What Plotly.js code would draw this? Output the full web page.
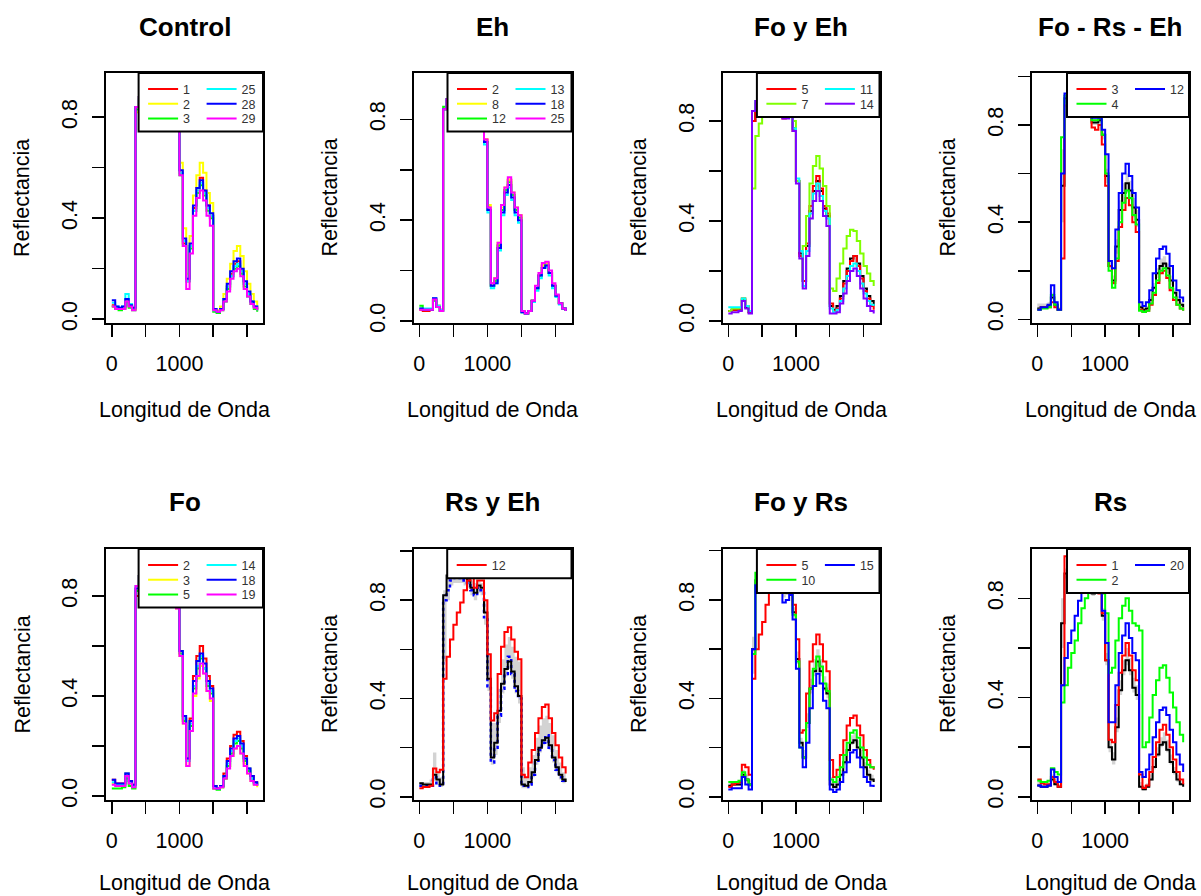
<!DOCTYPE html>
<html><head><meta charset="utf-8">
<script src="https://cdn.plot.ly/plotly-3.0.1.min.js"></script>
<style>html,body{margin:0;padding:0;background:#fff}#chart{width:1201px;height:896px}</style>
</head><body><div id="chart"></div>
<script>
// Wavelength index (x axis) shared by all spectra
const wl = [0,50,100,150,200,250,300,350,400,450,500,550,600,650,700,750,800,850,900,950,1000,1050,1100,1150,1200,1250,1300,1350,1400,1450,1500,1550,1600,1650,1700,1750,1800,1850,1900,1950,2000,2050,2100,2150];

// Control
const ctrl1  = [.055,.045,.04,.045,.075,.05,.04, .84, .88,.89,.89,.89,.89,.88,.87,.86,.85,.86,.84, .77,.58,.30,.15,.29,.44,.52,.56,.51,.45,.41, .035,.03,.04,.08,.13,.18,.22,.23,.19,.14,.10,.07,.05,.035];
const ctrl2  = [.05,.045,.04,.045,.07,.05,.04, .82, .88,.89,.89,.89,.89,.88,.87,.86,.85,.86,.85, .79,.62,.36,.18,.33,.49,.57,.62,.58,.50,.46, .04,.035,.05,.10,.16,.22,.27,.29,.25,.19,.14,.10,.07,.05];
const ctrl3  = [.05,.04,.035,.04,.07,.045,.035, .83, .87,.88,.88,.88,.88,.87,.86,.85,.84,.85,.83, .76,.57,.29,.15,.28,.43,.50,.53,.49,.43,.40, .03,.025,.035,.07,.12,.17,.20,.21,.18,.13,.09,.06,.04,.03];
const ctrl25 = [.065,.05,.045,.05,.10,.06,.045, .84, .88,.89,.89,.89,.89,.88,.87,.86,.85,.86,.84, .77,.58,.31,.15,.29,.43,.51,.54,.50,.44,.41, .035,.03,.04,.08,.13,.17,.21,.22,.19,.14,.10,.07,.05,.035];
const ctrl28 = [.075,.05,.045,.05,.08,.055,.045, .84, .88,.89,.89,.89,.89,.88,.87,.86,.85,.86,.84, .77,.59,.32,.16,.30,.45,.52,.55,.51,.45,.42, .04,.03,.04,.08,.14,.19,.23,.24,.20,.15,.11,.07,.05,.04];
const ctrl29 = [.05,.04,.04,.04,.07,.05,.035, .84, .88,.89,.89,.89,.89,.88,.87,.86,.85,.86,.84, .76,.57,.29,.12,.26,.41,.48,.51,.47,.41,.37, .035,.03,.035,.07,.11,.16,.19,.20,.17,.12,.09,.06,.045,.035];

// Eh
const eh2  = [.045,.04,.04,.045,.085,.06,.045, .84, .88,.89,.89,.89,.89,.88,.87,.86,.85,.86,.84, .72,.45,.14,.16,.30,.44,.52,.56,.50,.44,.42, .04,.03,.04,.08,.13,.18,.22,.23,.19,.14,.10,.07,.05,.04];
const eh8  = [.05,.045,.045,.045,.085,.06,.045, .84, .88,.89,.89,.89,.89,.88,.87,.86,.85,.86,.84, .72,.46,.15,.17,.31,.45,.53,.56,.51,.45,.42, .04,.03,.04,.08,.13,.18,.22,.23,.19,.14,.10,.07,.05,.04];
const eh12 = [.06,.045,.045,.045,.08,.055,.04, .85, .88,.89,.89,.89,.89,.88,.87,.86,.85,.86,.84, .71,.44,.14,.16,.30,.44,.52,.55,.50,.44,.41, .035,.03,.04,.08,.13,.18,.21,.22,.19,.14,.10,.07,.05,.04];
const eh13 = [.05,.05,.05,.05,.09,.06,.045, .84, .88,.89,.89,.89,.89,.88,.87,.86,.85,.86,.84, .70,.43,.13,.15,.28,.42,.50,.53,.48,.42,.39, .035,.03,.04,.075,.12,.17,.21,.215,.18,.13,.095,.065,.05,.04];
const eh18 = [.05,.045,.045,.045,.09,.055,.04, .84, .88,.89,.89,.89,.89,.88,.87,.86,.85,.86,.84, .71,.44,.14,.15,.29,.43,.51,.54,.49,.43,.40, .035,.03,.04,.08,.13,.18,.21,.22,.19,.14,.10,.07,.05,.04];
const eh25 = [.045,.045,.045,.045,.085,.055,.04, .84, .88,.89,.89,.89,.89,.88,.87,.86,.85,.86,.84, .72,.45,.15,.17,.31,.46,.53,.57,.51,.45,.42, .04,.03,.04,.08,.14,.19,.23,.235,.20,.15,.105,.07,.05,.04];

// Fo y Eh
const foeh5  = [.04,.045,.045,.05,.09,.06,.035, .80, .88,.89,.89,.89,.89,.88,.86,.84,.81,.82,.82, .76,.56,.26,.16,.31,.46,.54,.58,.53,.46,.43, .07,.04,.05,.09,.15,.20,.24,.26,.22,.17,.12,.09,.06,.045];
const foeh7  = [.04,.05,.05,.05,.09,.06,.04, .53, .74,.79,.85,.88,.89,.89,.88,.87,.86,.86,.84, .80,.56,.28,.30,.42,.55,.62,.66,.61,.54,.46, .13,.12,.17,.23,.29,.34,.365,.36,.32,.27,.22,.19,.16,.14];
const foeh11 = [.055,.055,.055,.055,.09,.06,.04, .84, .88,.89,.89,.89,.89,.88,.87,.85,.82,.83,.83, .77,.57,.28,.14,.28,.43,.51,.55,.50,.44,.41, .05,.035,.045,.08,.13,.18,.22,.23,.20,.15,.11,.08,.065,.06];
const foeh14 = [.03,.035,.035,.04,.08,.05,.03, .84, .88,.89,.89,.89,.89,.88,.86,.84,.81,.81,.82, .76,.55,.25,.13,.26,.41,.48,.52,.48,.42,.38, .03,.03,.035,.07,.11,.16,.20,.21,.18,.13,.09,.06,.04,.03];
const foehMean = [.04,.045,.045,.045,.085,.055,.035, .80, .87,.89,.89,.89,.89,.88,.86,.84,.82,.83,.83, .77,.56,.27,.16,.30,.44,.52,.56,.52,.45,.42, .06,.045,.06,.10,.16,.21,.25,.26,.23,.18,.13,.10,.08,.06];

// Fo - Rs - Eh
const forseh3  = [.04,.05,.05,.05,.07,.05,.04, .25, .88,.90,.90,.90,.89,.88,.87,.85,.79,.78,.80, .72,.55,.22,.15,.24,.38,.45,.50,.47,.40,.36, .04,.03,.035,.06,.10,.15,.19,.20,.17,.12,.08,.06,.045,.035];
const forseh4  = [.04,.045,.045,.05,.10,.06,.04, .75, .92,.92,.91,.90,.89,.88,.86,.84,.82,.82,.83, .76,.60,.20,.13,.25,.40,.48,.53,.50,.43,.39, .035,.03,.035,.065,.11,.16,.20,.21,.18,.13,.09,.06,.045,.035];
const forseh12 = [.04,.05,.05,.06,.14,.07,.04, .60, .93,.93,.92,.91,.90,.89,.88,.86,.83,.83,.83, .78,.68,.24,.21,.37,.52,.60,.64,.59,.52,.46, .07,.055,.07,.12,.19,.25,.29,.30,.27,.22,.16,.12,.09,.07];
const forsehMean = [.045,.05,.05,.055,.09,.06,.04, .55, .91,.92,.91,.90,.89,.88,.87,.85,.81,.81,.82, .76,.59,.22,.16,.30,.45,.52,.56,.53,.46,.41, .05,.04,.045,.08,.13,.19,.22,.23,.21,.16,.11,.08,.06,.05];
const forsehLo = [.04,.045,.045,.05,.08,.05,.035, .40, .89,.90,.90,.89,.88,.87,.86,.84,.80,.80,.81, .74,.56,.21,.14,.27,.41,.48,.52,.49,.42,.38, .04,.035,.04,.07,.12,.17,.20,.21,.19,.14,.10,.07,.05,.04];
const forsehHi = [.065,.065,.065,.07,.11,.075,.05, .70, .93,.93,.92,.91,.90,.89,.88,.86,.83,.83,.84, .78,.62,.24,.18,.33,.49,.56,.60,.57,.50,.45, .06,.05,.055,.09,.15,.21,.25,.26,.23,.18,.13,.095,.07,.06];

// Fo
const fo2  = [.065,.05,.05,.05,.09,.06,.045, .80, .88,.89,.89,.89,.89,.88,.87,.86,.85,.86,.84, .76,.58,.31,.15,.31,.48,.56,.60,.55,.48,.44, .04,.03,.04,.09,.15,.20,.245,.257,.22,.16,.11,.08,.055,.045];
const fo3  = [.05,.045,.045,.045,.08,.05,.04, .82, .88,.89,.89,.89,.89,.88,.87,.86,.85,.86,.84, .75,.56,.29,.12,.26,.40,.47,.52,.49,.42,.38, .03,.03,.035,.07,.12,.16,.19,.20,.17,.13,.09,.06,.045,.035];
const fo5  = [.03,.03,.03,.035,.07,.04,.03, .82, .88,.89,.89,.89,.89,.88,.87,.86,.85,.86,.84, .76,.57,.30,.14,.28,.43,.51,.55,.51,.44,.41, .03,.025,.035,.07,.12,.17,.21,.22,.19,.14,.10,.07,.05,.04];
const fo14 = [.055,.045,.045,.045,.09,.055,.04, .84, .88,.89,.89,.89,.89,.88,.87,.86,.85,.86,.84, .76,.58,.31,.14,.29,.44,.52,.56,.51,.45,.42, .035,.03,.04,.08,.13,.18,.22,.23,.20,.15,.11,.07,.05,.04];
const fo18 = [.065,.05,.05,.05,.09,.06,.045, .83, .88,.89,.89,.89,.89,.88,.87,.86,.85,.86,.84, .76,.58,.32,.15,.30,.46,.54,.57,.53,.46,.43, .04,.03,.04,.08,.14,.19,.23,.24,.21,.15,.11,.08,.055,.045];
const fo19 = [.045,.04,.04,.04,.08,.05,.035, .84, .88,.89,.89,.89,.89,.88,.87,.86,.85,.86,.84, .75,.56,.29,.12,.26,.41,.48,.53,.49,.42,.39, .03,.03,.035,.07,.11,.16,.19,.20,.17,.12,.09,.06,.045,.04];

// Rs y Eh
const rseh12   = [.035,.04,.04,.045,.115,.10,.11, .48, .57,.64,.70,.75,.79,.84,.88,.89,.85,.88,.88, .80,.58,.31,.34,.50,.61,.67,.69,.64,.59,.56, .09,.08,.14,.19,.26,.32,.365,.375,.32,.26,.21,.16,.12,.095];
const rsehMean = [.055,.05,.05,.05,.09,.07,.05, .82, .90,.91,.90,.90,.90,.89,.88,.85,.83,.86,.85, .75,.48,.16,.22,.35,.46,.52,.55,.51,.45,.41, .05,.045,.06,.10,.15,.20,.23,.24,.21,.16,.12,.09,.07,.06];
const rsehBlue = [.045,.045,.045,.045,.08,.055,.045, .80, .84,.88,.89,.89,.89,.88,.87,.84,.82,.85,.84, .73,.45,.14,.20,.33,.44,.50,.57,.50,.43,.40, .045,.04,.05,.09,.14,.19,.22,.25,.20,.15,.11,.08,.065,.055];
const rsehLo   = [.04,.04,.04,.04,.07,.05,.04, .55, .80,.86,.87,.87,.87,.86,.85,.82,.80,.83,.82, .70,.43,.13,.17,.30,.42,.49,.52,.48,.42,.38, .035,.035,.045,.08,.13,.18,.21,.22,.19,.14,.10,.07,.055,.05];
const rsehHi   = [.06,.06,.06,.07,.18,.10,.08, .84, .92,.92,.92,.92,.92,.91,.90,.88,.87,.88,.87, .80,.58,.30,.30,.44,.56,.62,.65,.61,.57,.55, .12,.08,.12,.17,.24,.29,.32,.33,.30,.25,.19,.14,.10,.085];

// Fo y Rs
const fors5  = [.04,.05,.055,.06,.13,.12,.09, .48, .60,.66,.71,.78,.84,.88,.89,.89,.87,.88,.86, .78,.64,.26,.27,.42,.55,.62,.66,.62,.55,.51, .15,.08,.11,.17,.23,.29,.32,.33,.29,.25,.19,.15,.12,.11];
const fors10 = [.06,.06,.06,.065,.10,.07,.05, .58, .91,.91,.91,.90,.90,.89,.88,.87,.85,.86,.86, .74,.55,.20,.16,.30,.44,.52,.57,.53,.46,.43, .07,.06,.08,.12,.17,.22,.26,.27,.24,.20,.16,.13,.12,.115];
const fors15 = [.03,.035,.035,.035,.08,.05,.03, .60, .86,.88,.89,.89,.89,.88,.86,.83,.79,.80,.82, .72,.52,.20,.12,.22,.36,.45,.50,.46,.39,.36, .03,.02,.03,.06,.10,.14,.18,.19,.16,.12,.08,.06,.045,.04];
const forsMean = [.045,.05,.05,.05,.09,.07,.05, .60, .88,.90,.90,.90,.89,.88,.87,.85,.83,.84,.84, .75,.56,.22,.16,.30,.44,.51,.55,.51,.44,.42, .05,.04,.05,.09,.14,.19,.22,.23,.20,.16,.12,.09,.07,.06];
const forsLo = [.04,.045,.045,.045,.08,.06,.04, .50, .86,.89,.89,.89,.88,.87,.86,.84,.81,.82,.83, .73,.54,.21,.15,.28,.42,.49,.53,.49,.43,.40, .045,.035,.045,.08,.13,.18,.21,.22,.19,.15,.11,.08,.06,.05];
const forsHi = [.055,.06,.06,.06,.11,.09,.07, .65, .90,.91,.91,.91,.90,.89,.88,.86,.85,.86,.86, .77,.59,.24,.19,.34,.48,.56,.60,.56,.49,.46, .08,.06,.07,.11,.17,.22,.25,.26,.23,.19,.14,.11,.09,.08];

// Rs
const rs1  = [.07,.055,.05,.05,.08,.06,.04, .45, .97,.97,.96,.95,.93,.91,.89,.87,.85,.83,.82, .74,.55,.23,.22,.37,.50,.57,.62,.57,.51,.47, .09,.035,.045,.10,.16,.22,.27,.29,.25,.20,.15,.10,.07,.05];
const rs2  = [.065,.06,.06,.065,.115,.10,.09, .38, .45,.52,.58,.63,.70,.76,.80,.84,.86,.86,.85, .82,.74,.50,.52,.63,.72,.77,.80,.75,.70,.69, .67,.20,.22,.32,.41,.47,.52,.53,.48,.42,.36,.30,.25,.22];
const rs20 = [.045,.04,.04,.045,.11,.08,.06, .45, .56,.62,.67,.73,.79,.83,.86,.87,.85,.86,.84, .75,.62,.30,.30,.45,.58,.65,.70,.64,.58,.55, .10,.08,.11,.17,.24,.30,.35,.36,.33,.27,.22,.17,.13,.10];
const rsMean = [.045,.04,.04,.045,.07,.05,.04, .70, .90,.90,.90,.89,.88,.87,.86,.85,.82,.83,.83, .73,.55,.20,.15,.28,.43,.51,.55,.51,.44,.41, .04,.03,.04,.07,.12,.17,.21,.22,.19,.14,.10,.07,.05,.04];
const rsLo = [.04,.035,.035,.04,.06,.045,.035, .60, .88,.89,.89,.88,.87,.86,.85,.84,.81,.82,.82, .71,.53,.18,.13,.26,.41,.49,.53,.49,.42,.39, .035,.025,.035,.065,.11,.16,.20,.21,.18,.13,.09,.06,.045,.035];
const rsHi = [.06,.05,.05,.055,.09,.065,.05, .80, .92,.92,.91,.90,.89,.88,.87,.86,.84,.85,.84, .76,.58,.23,.18,.32,.47,.55,.60,.56,.48,.45, .06,.045,.055,.09,.15,.20,.24,.26,.23,.17,.12,.09,.065,.05];

// Panels
const panelTitles = ['Control','Eh','Fo y Eh','Fo - Rs - Eh','Fo','Rs y Eh','Fo y Rs','Rs'];
const panelSeries = [
  [ctrl1,ctrl2,ctrl3,ctrl25,ctrl28,ctrl29],
  [eh2,eh8,eh12,eh13,eh18,eh25],
  [foeh5,foeh7,foeh11,foeh14],
  [forseh3,forseh4,forseh12],
  [fo2,fo3,fo5,fo14,fo18,fo19],
  [rseh12],
  [fors5,fors10,fors15],
  [rs1,rs2,rs20]
];
const panelLabels = [['1','2','3','25','28','29'],['2','8','12','13','18','25'],['5','7','11','14'],['3','4','12'],['2','3','5','14','18','19'],['12'],['5','10','15'],['1','2','20']];
const panelMeans = [null,null,foehMean,forsehMean,null,rsehMean,forsMean,rsMean];
const panelBandLo = [null,null,null,forsehLo,null,rsehLo,forsLo,rsLo];
const panelBandHi = [null,null,null,forsehHi,null,rsehHi,forsHi,rsHi];
const panelExtra = [null,null,null,null,null,rsehBlue,null,null];
const xTickVals = [0,500,1000,1500,2000];
const xTickText = ['0','','1000','',''];
const yTickVals = [0,0.2,0.4,0.6,0.8,1.0];
const yTickText = ['0.0','','0.4','','0.8',''];

// ---- styling / geometry ----
const W = 1201, H = 896;
const FONT = '"Liberation Sans", Arial, sans-serif';
const yRanges = [[-0.015,0.975],[-0.008,0.984],[-0.008,0.992],[-0.015,1.014],[-0.016,0.988],[-0.013,1.008],[-0.013,1.007],[-0.013,0.999]];
const xRange = [-86, 2236];
const colL = [106, 413.5, 722.5, 1031.5], colR = [263, 571.5, 879.5, 1189];
const rowT = [73, 549], rowB = [323, 800];
const xTitleY = [410, 883];
const legW = [124.4,124,122.6,122,124.4,124.3,122.6,122];
const pal = {
  6: ['#FF0000','#FFFF00','#00FF00','#00FFFF','#0000FF','#FF00FF'],
  4: ['#FF0000','#80FF00','#00FFFF','#8000FF'],
  3: ['#FF0000','#00FF00','#0000FF'],
  1: ['#FF0000']
};
const px = v => v / W, py = v => 1 - v / H;

const traces = [];
const layout = {
  width: W, height: H, margin: {l:0, r:0, t:0, b:0},
  paper_bgcolor: '#fff', plot_bgcolor: '#fff', showlegend: true,
  font: {family: FONT, color: '#000'},
  shapes: [], annotations: []
};
const legTargets = [];
let legN = 0;

for (let p = 0; p < 8; p++) {
  const col = p % 4, row = Math.floor(p / 4);
  const L = colL[col], R = colR[col], T = rowT[row], B = rowB[row];
  const sfx = p === 0 ? '' : String(p + 1);
  const xa = 'x' + sfx, ya = 'y' + sfx;
  const yr = yRanges[p];
  const tv = [], tt = [];
  yTickVals.forEach((v, i) => { if (v >= yr[0] && v <= yr[1]) { tv.push(v); tt.push(yTickText[i]); } });

  layout['xaxis' + sfx] = {
    domain: [px(L), px(R)], range: xRange, anchor: ya,
    showgrid: false, zeroline: false, showline: true, mirror: true,
    linecolor: '#000', linewidth: 2, ticks: 'outside', ticklen: 12, tickwidth: 1.5, tickcolor: '#000',
    tickmode: 'array', tickvals: xTickVals, ticktext: xTickText,
    tickfont: {family: FONT, size: 21.5, color: '#000'}, ticklabelstandoff: 8, fixedrange: true
  };
  layout['yaxis' + sfx] = {
    domain: [py(B), py(T)], range: yr, anchor: xa,
    showgrid: false, zeroline: false, showline: true, mirror: true,
    linecolor: '#000', linewidth: 2, ticks: 'outside', ticklen: 12, tickwidth: 1.5, tickcolor: '#000',
    tickmode: 'array', tickvals: tv, ticktext: tt, tickangle: -90,
    tickfont: {family: FONT, size: 21.5, color: '#000'}, ticklabelstandoff: 6, fixedrange: true
  };

  if (panelBandLo[p]) {
    traces.push({x: wl, y: panelBandLo[p], xaxis: xa, yaxis: ya, mode: 'lines', line: {width: 0, shape: 'hv'}, showlegend: false, hoverinfo: 'skip'});
    traces.push({x: wl, y: panelBandHi[p], xaxis: xa, yaxis: ya, mode: 'lines', line: {width: 0, shape: 'hv'}, fill: 'tonexty', fillcolor: '#D3D3D3', showlegend: false, hoverinfo: 'skip'});
  }
  if (panelExtra[p]) {
    traces.push({x: wl, y: panelExtra[p], xaxis: xa, yaxis: ya, mode: 'lines', line: {width: 2.5, shape: 'hv', color: '#0000FF', dash: 'dot'}, showlegend: false});
  }
  if (panelMeans[p]) {
    traces.push({x: wl, y: panelMeans[p], xaxis: xa, yaxis: ya, mode: 'lines', line: {width: 2, shape: 'hv', color: '#000'}, showlegend: false});
  }
  const ser = panelSeries[p], labs = panelLabels[p];
  const colors = pal[ser.length];
  const nrow = Math.ceil(ser.length / 2);
  const legH = 14.5 + 14.7 * nrow;
  const LL = R - legW[p];
  layout.shapes.push({type: 'rect', xref: 'paper', yref: 'paper', x0: px(LL), x1: px(R), y0: py(T + legH), y1: py(T), layer: 'above', fillcolor: '#fff', line: {color: '#000', width: 2}});
  ser.forEach((s, k) => {
    legN++;
    const lid = legN === 1 ? 'legend' : 'legend' + legN;
    const c = Math.floor(k / nrow), r = k % nrow;
    traces.push({x: wl, y: s, xaxis: xa, yaxis: ya, mode: 'lines', name: labs[k], legend: lid, line: {width: 2, shape: 'hv', color: colors[k]}, hoverinfo: 'skip'});
    const lineX = LL + 11 + 58.5 * c - 1.5, cy = T + 16.3 + 14.8 * r;
    const lx = px(lineX - 5), ly = py(cy);
    legTargets.push({id: lid, lineX: lineX, cy: cy, x: lx, y: ly});
    layout[lid] = {
      x: lx, y: ly, xanchor: 'left', yanchor: 'middle',
      bgcolor: 'rgba(0,0,0,0)', borderwidth: 0, itemwidth: 30, orientation: 'v',
      font: {family: FONT, size: 12.5, color: '#333'}, itemclick: false, itemdoubleclick: false
    };
  });

  layout.annotations.push({text: panelTitles[p], xref: 'paper', yref: 'paper', x: px((L + R) / 2), y: py(row === 0 ? 26.5 : 502), xanchor: 'center', yanchor: 'middle', showarrow: false, font: {family: FONT, size: 26, weight: 700, color: '#000'}});
  layout.annotations.push({text: 'Longitud de Onda', xref: 'paper', yref: 'paper', x: px((L + R) / 2), y: py(xTitleY[row]), xanchor: 'center', yanchor: 'middle', showarrow: false, font: {family: FONT, size: 21.5, color: '#000'}});
  layout.annotations.push({text: 'Reflectancia', xref: 'paper', yref: 'paper', x: px(L - 84), y: py((T + B) / 2), xanchor: 'center', yanchor: 'middle', textangle: -90, showarrow: false, font: {family: FONT, size: 21.5, color: '#000'}});
}

Plotly.newPlot('chart', traces, layout, {displayModeBar: false, staticPlot: true}).then(gd => {
  // nudge each legend so its swatch lands where the reference draws it
  const upd = {};
  legTargets.forEach(t => {
    try {
      const g = gd.querySelector('g.' + t.id);
      if (!g) return;
      const ln = g.querySelector('path.js-line') || g.querySelector('.legendlines path');
      if (!ln) return;
      const bb = ln.getBoundingClientRect();
      if (!bb.width) return;
      const dy = t.cy - (bb.top + bb.height / 2);
      const dx = t.lineX - bb.left;
      if (Math.abs(dy) > 0.5) upd[t.id + '.y'] = t.y - dy / H;
      if (Math.abs(dx) > 0.5) upd[t.id + '.x'] = t.x + dx / W;
    } catch (e) {}
  });
  if (Object.keys(upd).length) Plotly.relayout(gd, upd);
});
</script>
</body></html>
